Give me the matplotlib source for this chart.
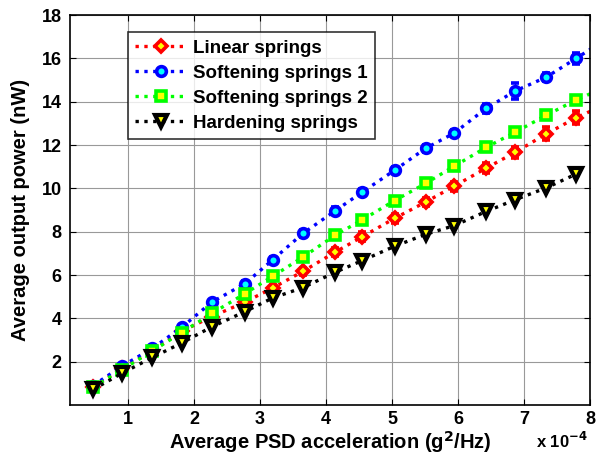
import matplotlib
matplotlib.use("Agg")
import matplotlib.pyplot as plt
from matplotlib.lines import Line2D

plt.rcParams['font.family'] = ['Liberation Sans', 'DejaVu Sans']
plt.rcParams['font.weight'] = 'bold'
plt.rcParams['mathtext.default'] = 'bf'

x = [0.47, 0.91, 1.37, 1.81, 2.27, 2.77, 3.19, 3.65, 4.14, 4.55, 5.04, 5.51, 5.94, 6.43, 6.87, 7.34, 7.79, 8.25]
linear = [0.85, 1.7, 2.5, 3.4, 4.08, 4.75, 5.4, 6.17, 7.06, 7.77, 8.62, 9.37, 10.1, 10.94, 11.67, 12.52, 13.26, 13.9]
soft1 = [0.9, 1.8, 2.62, 3.58, 4.75, 5.6, 6.7, 7.92, 8.97, 9.83, 10.84, 11.85, 12.55, 13.7, 14.5, 15.14, 16.0, 16.9]
soft2 = [0.83, 1.63, 2.5, 3.34, 4.23, 5.14, 5.94, 6.83, 7.84, 8.55, 9.44, 10.23, 11.02, 11.9, 12.6, 13.38, 14.08, 14.7]
hard = [0.72, 1.47, 2.2, 2.86, 3.61, 4.31, 4.94, 5.42, 6.13, 6.67, 7.33, 7.88, 8.28, 8.94, 9.48, 10.03, 10.66]
err_lin = [0.08, 0.08, 0.1, 0.1, 0.12, 0.12, 0.15, 0.15, 0.2, 0.2, 0.2, 0.2, 0.2, 0.25, 0.25, 0.3, 0.3, 0.3]
err_s1 = [0.08, 0.08, 0.1, 0.1, 0.12, 0.12, 0.15, 0.15, 0.15, 0.15, 0.15, 0.15, 0.15, 0.2, 0.35, 0.2, 0.25, 0.25]
err_s2 = [0.08, 0.08, 0.1, 0.1, 0.1, 0.12, 0.12, 0.12, 0.15, 0.15, 0.15, 0.15, 0.15, 0.15, 0.15, 0.15, 0.15, 0.15]
err_h = [0.05, 0.05, 0.05, 0.05, 0.05, 0.05, 0.05, 0.05, 0.05, 0.05, 0.05, 0.05, 0.05, 0.05, 0.05, 0.05, 0.05]
labels = ['Linear springs', 'Softening springs 1', 'Softening springs 2', 'Hardening springs']

fig = plt.figure(figsize=(6.01, 4.59), dpi=100)
ax = fig.add_axes([0.1165, 0.1176, 0.865, 0.8494])

series = [
    (linear, err_lin, 'red', 'D', 'yellow', 6.5, 2.6),
    (soft1, err_s1, 'blue', 'o', 'cyan', 7, 2.6),
    (soft2, err_s2, '#00ff00', 's', 'yellow', 7, 2.6),
    (hard, err_h, 'black', 'v', 'yellow', 8, 3.0),
]
handles = []
for (ys, es, col, mk, fc, ms, mew), lab in zip(series, labels):
    xs = x[:len(ys)]
    ax.errorbar(xs, ys, yerr=es, color=col, ls=':', lw=2.4, marker=mk,
                ms=ms, mfc=fc, mec=col, mew=mew, capsize=3, elinewidth=1,
                ecolor=col)
    handles.append(Line2D([], [], color=col, ls=':', lw=2.4, marker=mk,
                          ms=ms, mfc=fc, mec=col, mew=mew, label=lab))

ax.set_xlim(0.12, 8)
ax.set_ylim(0, 18)
ax.set_xticks(range(1, 9))
ax.set_yticks(range(2, 19, 2))
ax.grid(True, color='#999999', lw=0.8)
ax.tick_params(direction='in', top=True, right=True, labelsize=13, length=4)
ax.tick_params(axis='x', pad=4)
ax.tick_params(axis='y', pad=6)
for lbl in ax.get_xticklabels() + ax.get_yticklabels():
    lbl.set_fontweight('bold')
for s in ax.spines.values():
    s.set_linewidth(1.2)
ax.set_xlabel('Average PSD acceleration (g$^{2}$/Hz)', fontsize=14.5, fontweight='bold', labelpad=1)
ax.set_ylabel('Average output power (nW)', fontsize=14.5, fontweight='bold', labelpad=8)
fig.text(0.978, 0.025, 'x 10$^{-4}$', fontsize=12, fontweight='bold', ha='right')

leg = ax.legend(handles=handles, loc='upper left', bbox_to_anchor=(0.1115, 0.956),
                borderaxespad=0, fontsize=13.5, frameon=True, fancybox=False,
                edgecolor='black', handlelength=2.7, borderpad=0.4,
                labelspacing=0.42, handletextpad=0.35)
leg.get_frame().set_linewidth(1.2)
for t in leg.get_texts():
    t.set_fontweight('bold')

fig.savefig('out.png', dpi=100)
